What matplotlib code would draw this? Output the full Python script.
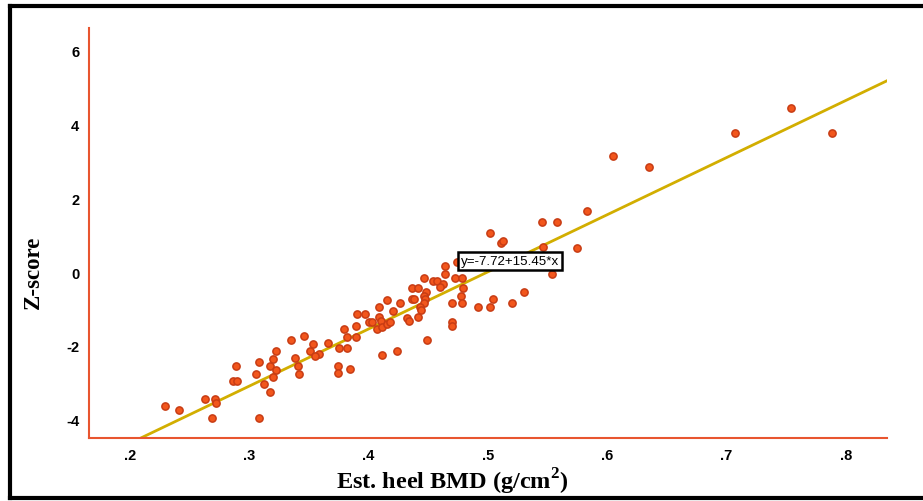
import numpy as np
import matplotlib
matplotlib.use("Agg")
import matplotlib.pyplot as plt
from matplotlib.lines import Line2D

plt.rcParams["axes.unicode_minus"] = False
plt.rcParams["mathtext.fontset"] = "custom"
plt.rcParams["mathtext.bf"] = "Liberation Serif:bold"
plt.rcParams["mathtext.rm"] = "Liberation Serif:bold"

# estimated heel BMD (g/cm2) and Z-score
bmd = [0.229, 0.241, 0.263, 0.271, 0.272, 0.269, 0.308, 0.286, 0.290, 0.289,
       0.306, 0.308, 0.312, 0.317, 0.317, 0.320, 0.322, 0.322, 0.320, 0.335,
       0.346, 0.338, 0.341, 0.342, 0.351, 0.353, 0.358, 0.355, 0.366, 0.375,
       0.382, 0.379, 0.389, 0.382, 0.389, 0.390, 0.397, 0.400, 0.403, 0.409,
       0.415, 0.420, 0.426, 0.409, 0.410, 0.407, 0.411, 0.415, 0.418, 0.411,
       0.424, 0.374, 0.374, 0.384, 0.432, 0.434, 0.441, 0.436, 0.438, 0.436,
       0.441, 0.448, 0.446, 0.446, 0.447, 0.446, 0.443, 0.444, 0.454, 0.457,
       0.462, 0.460, 0.449, 0.464, 0.464, 0.470, 0.470, 0.472, 0.478, 0.479,
       0.477, 0.470, 0.478, 0.492, 0.502, 0.504, 0.520, 0.530, 0.474, 0.502,
       0.511, 0.513, 0.545, 0.558, 0.583, 0.575, 0.546, 0.554, 0.605, 0.635,
       0.707, 0.754, 0.788]
zscore = [-3.62, -3.73, -3.43, -3.43, -3.54, -3.95, -3.95, -2.95, -2.95, -2.54,
          -2.76, -2.43, -3.03, -3.24, -2.54, -2.35, -2.14, -2.65, -2.84, -1.84,
          -1.74, -2.32, -2.54, -2.76, -2.14, -1.95, -2.22, -2.27, -1.93, -2.05,
          -2.05, -1.54, -1.45, -1.76, -1.76, -1.14, -1.14, -1.35, -1.35, -0.95,
          -0.76, -1.05, -0.84, -1.22, -1.32, -1.54, -1.49, -1.41, -1.35, -2.24,
          -2.14, -2.54, -2.73, -2.62, -1.24, -1.32, -1.23, -0.74, -0.74, -0.43,
          -0.43, -0.54, -0.65, -0.15, -0.73, -0.84, -0.96, -1.04, -0.24, -0.24,
          -0.32, -0.41, -1.84, 0.16, -0.05, -1.35, -1.46, -0.15, -0.15, -0.43,
          -0.65, -0.84, -0.84, -0.95, -0.95, -0.74, -0.84, -0.54, 0.27, 1.05,
          0.78, 0.84, 1.35, 1.35, 1.65, 0.65, 0.68, -0.05, 3.14, 2.84,
          3.76, 4.43, 3.76]

intercept, slope = -7.72, 15.45
xticks = [0.2, 0.3, 0.4, 0.5, 0.6, 0.7, 0.8]
xticklabels = [".2", ".3", ".4", ".5", ".6", ".7", ".8"]
yticks = [-4, -2, 0, 2, 4, 6]

spine_col = "#E8552F"
dot_col = "#F2561C"
dot_edge = "#C83C14"
line_col = "#D2AE00"

fig = plt.figure(figsize=(9.23, 5.02), dpi=100)
ax = fig.add_axes([89/923, 63/502, 798/923, 410/502])

xlim = (0.1656, 0.8345)
ax.set_xlim(*xlim)
ax.set_ylim(-4.49, 6.6)

xs = np.array([0.197, xlim[1]])
ax.plot(xs, intercept + slope * xs, color=line_col, lw=2, zorder=2)
ax.scatter(bmd, zscore, s=27, color=dot_col, edgecolors=dot_edge, linewidths=1.1, zorder=3)

ax.text(0.5185, 0.30, "y=-7.72+15.45*x", ha="center", va="center", fontsize=9.6,
        family="Liberation Sans", zorder=4,
        bbox=dict(boxstyle="square,pad=0.2", fc="white", ec="black", lw=1.8))

for side in ["top", "right"]:
    ax.spines[side].set_visible(False)
for side in ["left", "bottom"]:
    ax.spines[side].set_color(spine_col)
    ax.spines[side].set_linewidth(1.5)

ax.set_xticks(xticks)
ax.set_xticklabels(xticklabels)
ax.set_yticks(yticks)
ax.tick_params(length=0, pad=7)
for lab in ax.get_xticklabels() + ax.get_yticklabels():
    lab.set_family("Liberation Sans")
    lab.set_fontweight("bold")
    lab.set_fontsize(10.5)

fig.text(33/923, 1 - 272/502, "Z-score", rotation=90, ha="center", va="center",
         family="Liberation Serif", fontweight="bold", fontsize=16.5)
fig.text(452/923, 1 - 482/502, r"Est. heel BMD (g/cm$^{\mathbf{2}}$)", ha="center", va="center",
         family="Liberation Serif", fontweight="bold", fontsize=17.5)

# black frame round the picture (no right side in the original)
for (x0, y0, x1, y1) in [(10, 7, 923, 7), (10, 499, 923, 499), (10, 7, 10, 499)]:
    fig.add_artist(Line2D([x0/923, x1/923], [1 - y0/502, 1 - y1/502],
                          color="black", lw=3, transform=fig.transFigure))

fig.savefig("out.png", dpi=100)
